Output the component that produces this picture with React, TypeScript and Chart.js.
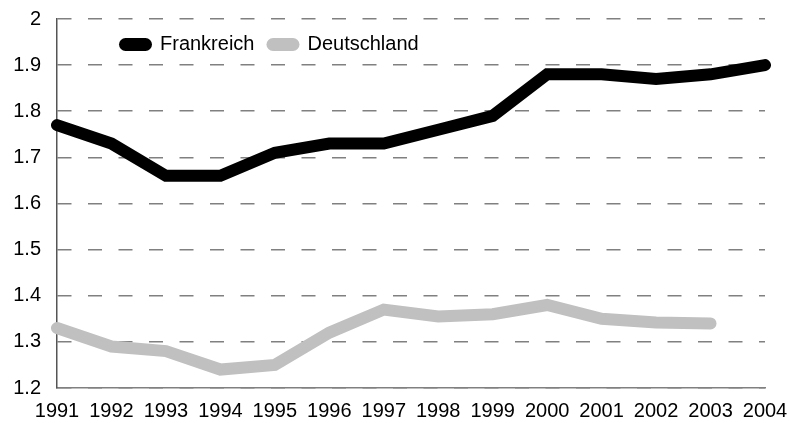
import React, { useEffect, useRef } from "react";
import { Chart, registerables } from "chart.js";

Chart.register(...registerables);

const years = ["1991", "1992", "1993", "1994", "1995", "1996", "1997", "1998", "1999", "2000", "2001", "2002", "2003", "2004"];
const frankreich = [1.77, 1.73, 1.66, 1.66, 1.71, 1.73, 1.73, 1.76, 1.79, 1.88, 1.88, 1.87, 1.88, 1.9];
const deutschland = [1.33, 1.29, 1.28, 1.24, 1.25, 1.32, 1.37, 1.355, 1.36, 1.38, 1.35, 1.342, 1.34];
const seriesNames = ["Frankreich", "Deutschland"];
const seriesColors = ["#000000", "#c0c0c0"];
const yMin = 1.2;
const yMax = 2;
const yStep = 0.1;

const FONT = "'Liberation Sans', Arial, sans-serif";

const legendPlugin = {
  id: "innerLegend",
  afterDraw(chart: any) {
    const ctx = chart.ctx;
    const area = chart.chartArea;
    ctx.save();
    ctx.font = `20px ${FONT}`;
    ctx.textBaseline = "middle";
    ctx.textAlign = "left";
    let x = area.left + 62;
    const cy = area.top + 25.5;
    chart.data.datasets.forEach((ds: any) => {
      const w = 33;
      const h = 13;
      ctx.fillStyle = ds.borderColor;
      ctx.beginPath();
      ctx.roundRect(x, cy - h / 2, w, h, h / 2);
      ctx.fill();
      x += w + 8;
      ctx.fillStyle = "#000";
      ctx.fillText(ds.label, x, cy);
      x += ctx.measureText(ds.label).width + 12;
    });
    ctx.restore();
  },
};

function zeroPad(scale: any) {
  scale.paddingTop = 0;
  scale.paddingBottom = 0;
  scale.paddingLeft = 0;
  scale.paddingRight = 0;
}

export default function App() {
  const ref = useRef<HTMLCanvasElement>(null);
  useEffect(() => {
    document.body.style.margin = "0";
    const chart = new Chart(ref.current!, {
      type: "line",
      data: {
        labels: years,
        datasets: [
          {
            label: seriesNames[0],
            data: frankreich,
            borderColor: seriesColors[0],
            backgroundColor: seriesColors[0],
            borderWidth: 12,
            borderCapStyle: "round",
            pointRadius: 0,
            tension: 0,
          },
          {
            label: seriesNames[1],
            data: deutschland,
            borderColor: seriesColors[1],
            backgroundColor: seriesColors[1],
            borderWidth: 12,
            borderCapStyle: "round",
            pointRadius: 0,
            tension: 0,
          },
        ],
      },
      options: {
        animation: false,
        responsive: false,
        maintainAspectRatio: false,
        layout: { padding: { top: 19, right: 24, left: 0, bottom: 0 } },
        plugins: { legend: { display: false }, tooltip: { enabled: false } },
        scales: {
          x: {
            offset: false,
            grid: { display: false, drawTicks: false },
            border: { display: true, color: "#808080", width: 1.5 },
            ticks: {
              color: "#000",
              font: { family: FONT, size: 20 },
              padding: 11,
              maxRotation: 0,
              autoSkip: false,
            },
            afterFit(scale: any) {
              scale.height = 35;
              zeroPad(scale);
            },
          },
          y: {
            min: yMin,
            max: yMax,
            grid: { color: "#808080", lineWidth: 1.5, drawTicks: false },
            border: { display: true, color: "#555555", width: 1.5, dash: [14, 16.5] },
            ticks: {
              stepSize: yStep,
              color: "#000",
              font: { family: FONT, size: 20 },
              padding: 16,
              callback: (v: any) => String(Number(Number(v).toFixed(1))),
            },
            afterFit(scale: any) {
              scale.width = 57;
              zeroPad(scale);
            },
          },
        },
      },
      plugins: [legendPlugin],
    } as any);
    return () => chart.destroy();
  }, []);
  return (
    <div style={{ position: "fixed", left: 0, top: 0, width: 789, height: 423, background: "#fff" }}>
      <canvas ref={ref} width={789} height={423} style={{ width: 789, height: 423 }} />
    </div>
  );
}
